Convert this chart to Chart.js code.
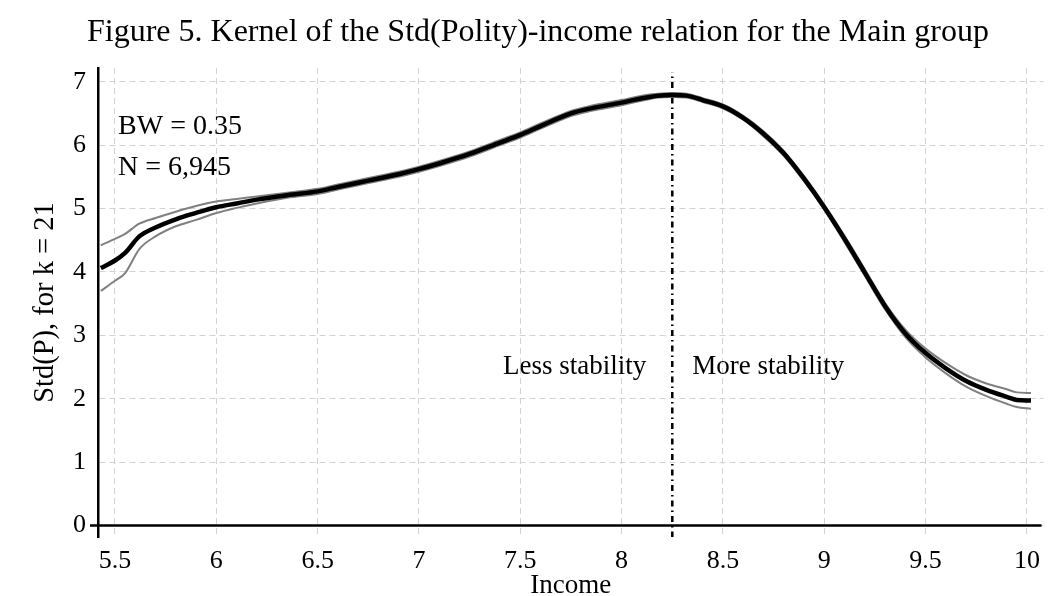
<!DOCTYPE html>
<html>
<head>
<meta charset="utf-8">
<script src="https://cdn.jsdelivr.net/npm/chart.js@4.4.0/dist/chart.umd.min.js"></script>
<style>
  body { margin: 0; background: #fff; }
  canvas { display: block; }
</style>
</head>
<body>
<canvas id="myChart" width="1049" height="596"></canvas>
<script>
// income grid and kernel estimates
var income = [5.43, 5.5, 5.55, 5.62, 5.7, 5.8, 5.9, 6.0, 6.1, 6.2, 6.35, 6.5, 6.6, 6.75, 6.9, 7.0, 7.1, 7.25, 7.4, 7.5, 7.6, 7.75, 7.85, 8.0, 8.1, 8.18, 8.25, 8.32, 8.4, 8.5, 8.6, 8.7, 8.8, 8.9, 9.0, 9.1, 9.2, 9.3, 9.4, 9.5, 9.6, 9.7, 9.8, 9.9, 9.95, 10.02];
var stdP = [4.06, 4.18, 4.30, 4.56, 4.70, 4.83, 4.93, 5.02, 5.08, 5.14, 5.21, 5.27, 5.34, 5.44, 5.54, 5.62, 5.71, 5.86, 6.04, 6.16, 6.30, 6.50, 6.58, 6.67, 6.74, 6.78, 6.79, 6.78, 6.71, 6.61, 6.43, 6.18, 5.87, 5.47, 5.02, 4.52, 3.99, 3.46, 3.03, 2.72, 2.48, 2.28, 2.14, 2.03, 1.98, 1.97];
var upperCI = [4.42, 4.52, 4.60, 4.76, 4.85, 4.95, 5.04, 5.11, 5.15, 5.19, 5.25, 5.31, 5.38, 5.48, 5.58, 5.66, 5.75, 5.90, 6.08, 6.20, 6.34, 6.54, 6.62, 6.71, 6.78, 6.81, 6.82, 6.81, 6.74, 6.64, 6.46, 6.22, 5.91, 5.51, 5.06, 4.57, 4.04, 3.51, 3.09, 2.79, 2.56, 2.37, 2.24, 2.15, 2.10, 2.09];
var lowerCI = [3.70, 3.86, 3.98, 4.36, 4.56, 4.72, 4.82, 4.93, 5.01, 5.08, 5.17, 5.23, 5.30, 5.40, 5.50, 5.58, 5.67, 5.82, 6.00, 6.12, 6.26, 6.46, 6.54, 6.63, 6.70, 6.75, 6.76, 6.75, 6.68, 6.58, 6.40, 6.14, 5.83, 5.43, 4.98, 4.47, 3.94, 3.41, 2.97, 2.65, 2.40, 2.19, 2.04, 1.92, 1.87, 1.84];
var cutoff = 8.25;

var xTicks = [5.5, 6, 6.5, 7, 7.5, 8, 8.5, 9, 9.5, 10];
var yTicks = [0, 1, 2, 3, 4, 5, 6, 7];

var titleText = 'Figure 5. Kernel of the Std(Polity)-income relation for the Main group';
var notes = [
    { text: 'BW = 0.35', x: 5.515, y: 6.175, align: 'left' },
    { text: 'N = 6,945', x: 5.515, y: 5.53, align: 'left' },
    { text: 'Less stability', x: 8.121, y: 2.39, align: 'right' },
    { text: 'More stability', x: 8.348, y: 2.39, align: 'left' }
];

var serif = "'Times New Roman', 'Liberation Serif', serif";

function pts(ys) {
    return income.map(function (x, i) { return { x: x, y: ys[i] }; });
}

var extras = {
    id: 'extras',
    beforeDatasetsDraw: function (chart) {
        var ctx = chart.ctx, ys = chart.scales.y;
        // x axis line sits at y = 0
        var y0 = ys.getPixelForValue(0);
        ctx.save();
        ctx.strokeStyle = '#000';
        ctx.lineWidth = 2.5;
        ctx.beginPath();
        ctx.moveTo(chart.chartArea.left - 8, y0);
        ctx.lineTo(chart.chartArea.right - 2, y0);
        ctx.stroke();
        ctx.restore();
    },
    afterDatasetsDraw: function (chart) {
        var ctx = chart.ctx, xs = chart.scales.x, ys = chart.scales.y;
        ctx.save();
        ctx.fillStyle = '#000';
        ctx.textBaseline = 'alphabetic';
        notes.forEach(function (n, i) {
            ctx.font = (i < 2 ? '28px ' : '27px ') + serif;
            ctx.textAlign = n.align;
            ctx.fillText(n.text, xs.getPixelForValue(n.x), ys.getPixelForValue(n.y));
        });
        ctx.font = '32px ' + serif;
        ctx.textAlign = 'center';
        ctx.fillText(titleText, 538, 41);
        ctx.restore();
    }
};

var ctx = document.getElementById('myChart').getContext('2d');
var chart = new Chart(ctx, {
    type: 'line',
    data: {
        datasets: [
            {
                label: 'Std(P)',
                data: pts(stdP),
                borderColor: '#000',
                borderWidth: 4.5,
                pointRadius: 0,
                cubicInterpolationMode: 'monotone',
                fill: false
            },
            {
                label: 'upper',
                data: pts(upperCI),
                borderColor: '#808080',
                borderWidth: 2,
                pointRadius: 0,
                cubicInterpolationMode: 'monotone',
                fill: false
            },
            {
                label: 'lower',
                data: pts(lowerCI),
                borderColor: '#808080',
                borderWidth: 2,
                pointRadius: 0,
                cubicInterpolationMode: 'monotone',
                fill: false
            },
            {
                label: 'cutoff',
                data: [{ x: cutoff, y: -0.19 }, { x: cutoff, y: 7.15 }],
                borderColor: '#000',
                borderWidth: 2.5,
                borderDash: [6, 4, 1.5, 4],
                pointRadius: 0,
                tension: 0,
                fill: false
            }
        ]
    },
    options: {
        responsive: false,
        devicePixelRatio: 1,
        animation: false,
        layout: { padding: { top: 68, right: 4, left: 0, bottom: 0 } },
        plugins: {
            legend: { display: false },
            tooltip: { enabled: false },
            title: { display: false }
        },
        scales: {
            x: {
                type: 'linear',
                min: 5.4162,
                max: 10.082,
                afterFit: function (s) { s.height = 59; },
                afterBuildTicks: function (s) { s.ticks = xTicks.map(function (v) { return { value: v }; }); },
                border: { display: false, dash: [6, 4] },
                grid: { color: '#d2d2d2', lineWidth: 1, drawTicks: false },
                ticks: {
                    padding: 9,
                    color: '#000',
                    font: { family: serif, size: 26 },
                    maxRotation: 0,
                    callback: function (v) { return String(v); }
                },
                title: {
                    display: true,
                    text: 'Income',
                    color: '#000',
                    font: { family: serif, size: 27, lineHeight: 1 },
                    padding: { top: 0, bottom: -3 }
                }
            },
            y: {
                type: 'linear',
                min: -0.181,
                max: 7.216,
                afterFit: function (s) { s.width = 98; },
                afterBuildTicks: function (s) { s.ticks = yTicks.map(function (v) { return { value: v }; }); },
                border: { display: true, color: '#000', width: 2.5, dash: [6, 4] },
                grid: { color: '#d2d2d2', lineWidth: 1, drawTicks: false },
                ticks: {
                    padding: 12,
                    color: '#000',
                    font: { family: serif, size: 26 },
                    callback: function (v) { return String(v); }
                },
                title: {
                    display: true,
                    text: 'Std(P), for k = 21',
                    color: '#000',
                    font: { family: serif, size: 28.5, lineHeight: 1 },
                    padding: { top: 31, bottom: 0 }
                }
            }
        }
    },
    plugins: [extras]
});
</script>
</body>
</html>
